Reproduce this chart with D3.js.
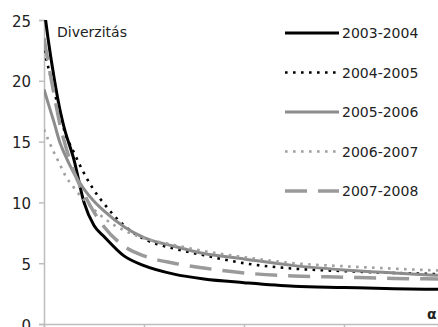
<!DOCTYPE html>
<html lang="hu">
<head>
  <meta charset="UTF-8"/>
  <title>Diverzitás</title>
  <style>
    *{margin:0;padding:0}
    body{background:#fff;width:438px;height:327px;overflow:hidden}
    svg{display:block;font-family:"DejaVu Sans",sans-serif}
  </style>
</head>
<body>
  <div id="chart"></div>
  <script src="https://d3js.org/d3.v7.min.js"></script>
  <script>
    // alpha values (x) shared by all series
    const alpha = [0, 0.04, 0.10, 0.16, 0.20, 0.30, 0.40, 0.50, 0.60, 0.80, 1.00, 1.30, 1.60, 2.00, 2.50, 3.00, 3.50, 3.94];

    const s0304 = [26.0, 23.5, 20.3, 17.6, 16.2, 13.5, 10.0, 8.1, 7.2, 5.6, 4.8, 4.1, 3.7, 3.4, 3.1, 3.0, 2.9, 2.85];
    const s0405 = [22.5, 21.2, 19.2, 17.3, 16.0, 14.1, 12.4, 11.0, 9.9, 8.1, 7.0, 6.2, 5.65, 5.0, 4.55, 4.35, 4.2, 4.1];
    const s0506 = [19.3, 18.2, 16.6, 14.9, 14.1, 12.4, 11.1, 10.1, 9.3, 8.0, 7.1, 6.4, 5.8, 5.35, 4.8, 4.45, 4.2, 4.0];
    const s0607 = [16.0, 15.2, 14.1, 13.1, 12.4, 11.2, 10.2, 9.4, 8.7, 7.7, 7.05, 6.5, 6.0, 5.5, 5.0, 4.75, 4.55, 4.4];
    const s0708 = [23.5, 21.6, 18.9, 16.4, 15.1, 12.5, 10.7, 9.2, 8.0, 6.4, 5.6, 5.0, 4.6, 4.2, 3.95, 3.85, 3.75, 3.7];

    const seriesNames = ['2003-2004', '2004-2005', '2005-2006', '2006-2007', '2007-2008'];
    const seriesValues = [s0304, s0405, s0506, s0607, s0708];
    const yTicks = [0, 5, 10, 15, 20, 25];
    const xTicks = [0, 1, 2, 3];

    // line looks per series
    const styles = [
      { color:'#000',    width:3,   dash:null },
      { color:'#000',    width:2.6, dash:'2.6,5.4' },
      { color:'#8c8c8c', width:3,   dash:null },
      { color:'#a0a0a0', width:2.6, dash:'2.6,5.4' },
      { color:'#9a9a9a', width:3.5, dash:'22,11' }
    ];

    const W = 438, H = 327;
    const x0 = 44, x1 = 438, yTop = 20, yBot = 324;

    const x = d3.scaleLinear().domain([0, 3.94]).range([x0, x1]);
    const y = d3.scaleLinear().domain([0, 25]).range([yBot, yTop]);

    const svg = d3.select('#chart').append('svg')
      .attr('width', W).attr('height', H);

    svg.append('clipPath').attr('id', 'plot')
      .append('rect').attr('x', x0).attr('y', yTop).attr('width', x1 - x0).attr('height', yBot - yTop);

    // axes
    const yAxis = svg.append('g').attr('transform', `translate(${x0},0)`)
      .call(d3.axisLeft(y).tickValues(yTicks).tickSize(5).tickPadding(8));
    yAxis.select('.domain').attr('stroke', '#bdbdbd').attr('stroke-width', 1.5);
    yAxis.selectAll('.tick line').attr('stroke', '#bdbdbd').attr('stroke-width', 1.5);
    yAxis.selectAll('.tick text').attr('font-size', 15).attr('fill', '#222')
      .attr('font-family', '"DejaVu Sans",sans-serif').attr('dy', '0.4em');

    const xAxis = svg.append('g').attr('transform', `translate(0,${yBot})`)
      .call(d3.axisBottom(x).tickValues(xTicks).tickSize(5).tickFormat(''));
    xAxis.select('.domain').attr('stroke', '#bdbdbd').attr('stroke-width', 1.5);
    xAxis.selectAll('.tick line').attr('stroke', '#bdbdbd').attr('stroke-width', 1.5);

    // curves
    const line = d3.line()
      .x((d, i) => x(alpha[i]))
      .y(d => y(d))
      .curve(d3.curveMonotoneX);

    const g = svg.append('g').attr('clip-path', 'url(#plot)');
    seriesValues.forEach((vals, k) => {
      const st = styles[k];
      g.append('path')
        .attr('d', line(vals))
        .attr('fill', 'none')
        .attr('stroke', st.color)
        .attr('stroke-width', st.width)
        .attr('stroke-dasharray', st.dash);
    });

    svg.append('text').attr('x', 57).attr('y', 37)
      .attr('font-size', 14).attr('fill', '#222').text('Diverzitás');

    svg.append('text').attr('x', 427).attr('y', 319)
      .attr('font-size', 14).attr('font-weight', 'bold').attr('fill', '#222').text('α');

    // legend
    const leg = svg.append('g');
    seriesNames.forEach((name, k) => {
      const st = styles[k], ly = 33 + k * 39.5;
      leg.append('line')
        .attr('x1', 285).attr('x2', 339).attr('y1', ly).attr('y2', ly)
        .attr('stroke', st.color).attr('stroke-width', st.width)
        .attr('stroke-dasharray', st.dash);
      leg.append('text').attr('x', 342).attr('y', ly + 5)
        .attr('font-size', 14).attr('fill', '#222').text(name);
    });
  </script>
</body>
</html>
